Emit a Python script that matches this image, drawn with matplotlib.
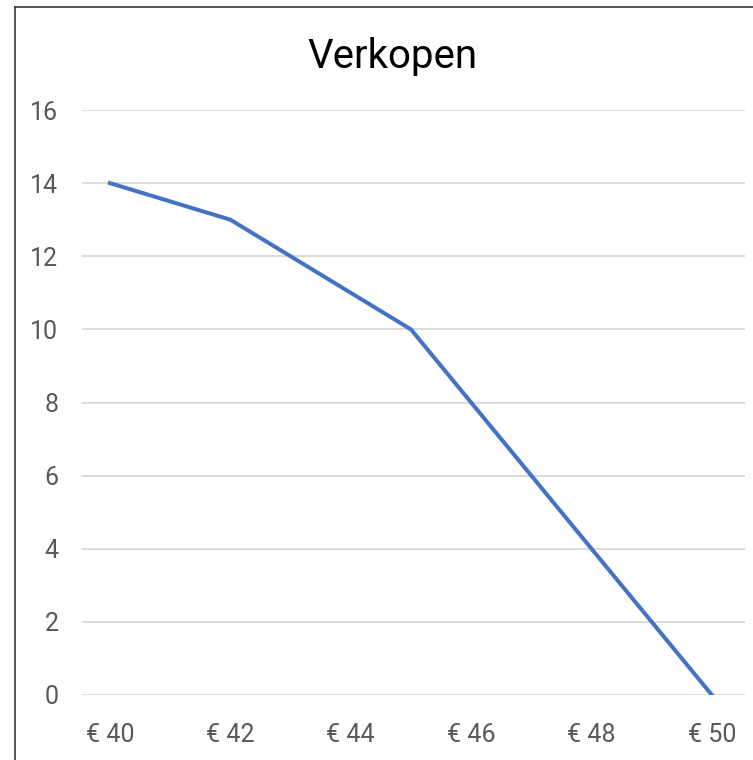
import matplotlib.pyplot as plt
from matplotlib.lines import Line2D

# prijs (EUR) en verkochte aantallen
prijs = [40, 42, 45, 50]
verkopen = [14, 13, 10, 0]
x_ticks = [40, 42, 44, 46, 48, 50]
x_labels = ['€ 40', '€ 42', '€ 44', '€ 46', '€ 48', '€ 50']
y_ticks = [0, 2, 4, 6, 8, 10, 12, 14, 16]

plt.rcParams['font.family'] = ['Roboto', 'DejaVu Sans']

fig = plt.figure(figsize=(7.53, 7.6), dpi=100)
ax = fig.add_axes([82 / 753, 65 / 760, 663 / 753, 585 / 760])

ax.plot(prijs, verkopen, color='#4472C4', linewidth=2.9, solid_joinstyle='miter')

ax.set_xlim(39.535, 50.55)
ax.set_ylim(0, 16)
ax.set_xticks(x_ticks)
ax.set_xticklabels(x_labels)
ax.set_yticks(y_ticks)

ax.grid(axis='y', color='#d9d9d9', linewidth=1.3)
ax.set_axisbelow(True)
for s in ax.spines.values():
    s.set_visible(False)
ax.tick_params(length=0, labelsize=18, labelcolor='#595959')
ax.tick_params(axis='x', pad=20)
ax.tick_params(axis='y', pad=17)

fig.text(392 / 753, 1 - 57 / 760, 'Verkopen', ha='center', va='center',
         fontsize=29, color='black')

# rand van het grafiekgebied (links en boven)
fig.add_artist(Line2D([14.5 / 753, 14.5 / 753], [0, 1 - 6.5 / 760],
                      color='#3a3a3a', linewidth=1.2, transform=fig.transFigure))
fig.add_artist(Line2D([14.5 / 753, 1], [1 - 6.5 / 760, 1 - 6.5 / 760],
                      color='#3a3a3a', linewidth=1.2, transform=fig.transFigure))

fig.savefig('out.png', dpi=100)
